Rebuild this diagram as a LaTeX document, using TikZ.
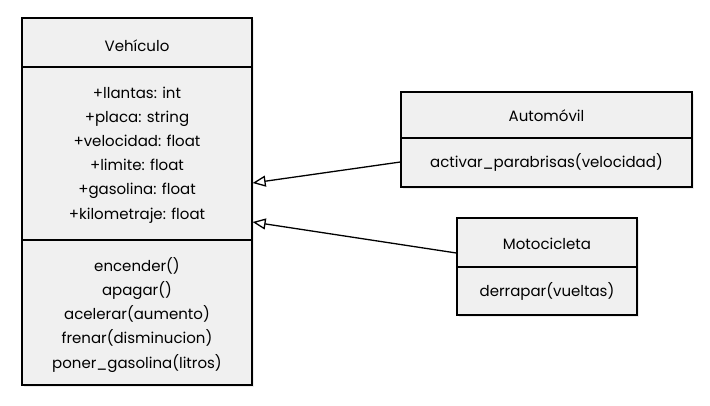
\documentclass[tikz,border=0pt]{standalone}
\usepackage{fontspec}
\setmainfont{Poppins}
\usetikzlibrary{arrows.meta,shadows}

\tikzset{
  clsbox/.style={draw=black, line width=1.3pt, fill=black!6, inner sep=0pt,
    drop shadow={opacity=0.15, shadow xshift=2pt, shadow yshift=-2pt}},
  txt/.style={font=\fontsize{15}{18}\selectfont, inner sep=0pt, anchor=center,
    text height=12pt, text depth=0pt},
  divider/.style={line width=1.3pt},
  inherit/.style={line width=1.3pt, -{Triangle[open, length=13pt, width=11pt, fill=white]}}
}

\begin{document}
\begin{tikzpicture}[x=1pt, y=-1pt]
    \useasboundingbox (0,0) rectangle (710,405);

    % class boxes
    \node [clsbox, minimum width=230pt, minimum height=367pt] (veh) at (137,201.5) {};
    \node [clsbox, minimum width=291pt, minimum height=95pt] (auto) at (546.5,139.5) {};
    \node [clsbox, minimum width=180pt, minimum height=97pt] (moto) at (547,266.5) {};

    % dividers
    \draw [divider] (veh.west |- 0,67) -- (veh.east |- 0,67);
    \draw [divider] (veh.west |- 0,240) -- (veh.east |- 0,240);
    \draw [divider] (auto.west |- 0,138) -- (auto.east |- 0,138);
    \draw [divider] (moto.west |- 0,267) -- (moto.east |- 0,267);

    % Vehiculo
    \node [txt] (vehname) at (137,45) {Vehículo};
    \node [txt] (a1) at (137,92) {+llantas: int};
    \node [txt] (a2) at (137,116) {+placa: string};
    \node [txt] (a3) at (137,140) {+velocidad: float};
    \node [txt] (a4) at (137,164) {+limite: float};
    \node [txt] (a5) at (137,188) {+gasolina: float};
    \node [txt] (a6) at (137,213) {+kilometraje: float};
    \node [txt] (m1) at (137,265) {encender()};
    \node [txt] (m2) at (137,289) {apagar()};
    \node [txt] (m3) at (137,313) {acelerar(aumento)};
    \node [txt] (m4) at (137,337) {frenar(disminucion)};
    \node [txt] (m5) at (137,362) {poner\_gasolina(litros)};

    % Automovil
    \node [txt] (autoname) at (546.5,115) {Automóvil};
    \node [txt] (autom1) at (546.5,161) {activar\_parabrisas(velocidad)};

    % Motocicleta
    \node [txt] (motoname) at (547,243) {Motocicleta};
    \node [txt] (motom1) at (547,290) {derrapar(vueltas)};

    % inheritance
    \draw [inherit] (auto.west |- 0,162) -- (veh.east |- 0,183);
    \draw [inherit] (moto.west |- 0,253) -- (veh.east |- 0,222);
\end{tikzpicture}
\end{document}
